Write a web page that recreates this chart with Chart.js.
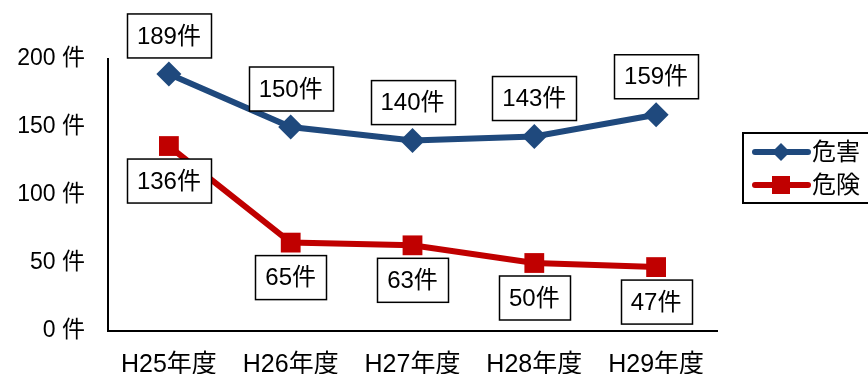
<!DOCTYPE html>
<html>
<head>
<meta charset="utf-8">
<script src="https://cdn.jsdelivr.net/npm/chart.js@4"></script>
<style>
  html, body { margin: 0; padding: 0; background: #fff; }
  #wrap { width: 868px; height: 374px; }
</style>
</head>
<body>
<div id="wrap"><canvas id="chart" width="868" height="374"></canvas></div>
<script>
// chart data
const years = ["H25年度", "H26年度", "H27年度", "H28年度", "H29年度"];
const seriesNames = ["危害", "危険"];
const harmCounts = [189, 150, 140, 143, 159];
const dangerCounts = [136, 65, 63, 50, 47];
const yTicks = [0, 50, 100, 150, 200];

const FONT = "'Liberation Sans', 'Noto Sans CJK JP', sans-serif";
const BLUE = "#1F497D";
const RED = "#C00000";

// boxed value labels (above the blue line, below the red one) and the legend box
const boxLabels = {
  id: "boxLabels",
  afterDatasetsDraw(chart) {
    const ctx = chart.ctx;
    ctx.save();
    ctx.font = "24px " + FONT;
    ctx.textAlign = "center";
    ctx.textBaseline = "middle";
    chart.data.datasets.forEach(function (ds, i) {
      const meta = chart.getDatasetMeta(i);
      meta.data.forEach(function (pt, j) {
        const text = ds.data[j] + "件";
        const w = Math.round(ctx.measureText(text).width + 20);
        const h = 44;
        const top = i === 0 ? pt.y - 16 - h : pt.y + 13;
        const left = Math.round(pt.x - w / 2) + 0.5;
        ctx.fillStyle = "#fff";
        ctx.fillRect(left, top, w, h);
        ctx.strokeStyle = "#000";
        ctx.lineWidth = 1.5;
        ctx.strokeRect(left, top, w, h);
        ctx.fillStyle = "#000";
        ctx.fillText(text, pt.x, top + h / 2 + 1);
      });
    });

    // legend
    ctx.strokeStyle = "#000";
    ctx.lineWidth = 2;
    ctx.strokeRect(743, 133, 140, 70);
    const rows = [{ y: 152, ds: chart.data.datasets[0] }, { y: 185, ds: chart.data.datasets[1] }];
    rows.forEach(function (r) {
      ctx.strokeStyle = r.ds.borderColor;
      ctx.lineWidth = 6;
      ctx.lineCap = "round";
      ctx.beginPath();
      ctx.moveTo(755, r.y);
      ctx.lineTo(808, r.y);
      ctx.stroke();
      ctx.fillStyle = r.ds.borderColor;
      if (r.ds.pointStyle === "rectRot") {
        ctx.beginPath();
        ctx.moveTo(781, r.y - 9);
        ctx.lineTo(790, r.y);
        ctx.lineTo(781, r.y + 9);
        ctx.lineTo(772, r.y);
        ctx.closePath();
        ctx.fill();
      } else {
        ctx.fillRect(772, r.y - 9, 18, 18);
      }
      ctx.fillStyle = "#000";
      ctx.textAlign = "left";
      ctx.font = "24px " + FONT;
      ctx.fillText(r.ds.label, 812, r.y + 1);
    });
    ctx.restore();
  }
};

new Chart(document.getElementById("chart"), {
  type: "line",
  data: {
    labels: years,
    datasets: [
      {
        label: seriesNames[0],
        data: harmCounts,
        borderColor: BLUE,
        backgroundColor: BLUE,
        borderWidth: 6,
        pointStyle: "rectRot",
        pointRadius: 12.5,
        pointBorderWidth: 0,
        tension: 0
      },
      {
        label: seriesNames[1],
        data: dangerCounts,
        borderColor: RED,
        backgroundColor: RED,
        borderWidth: 6,
        pointStyle: "rect",
        pointRadius: 14,
        pointBorderWidth: 0,
        tension: 0
      }
    ]
  },
  options: {
    responsive: false,
    animation: false,
    layout: { padding: { top: 59, right: 151, left: 0, bottom: 0 } },
    plugins: {
      legend: { display: false },
      tooltip: { enabled: false }
    },
    scales: {
      x: {
        offset: true,
        grid: { display: false, drawTicks: false },
        border: { color: "#000", width: 2 },
        ticks: { color: "#000", font: { family: FONT, size: 25 }, padding: 19, maxRotation: 0 },
        afterFit: function (s) { s.height = 43; }
      },
      y: {
        min: 0,
        max: 200,
        afterBuildTicks: function (s) { s.ticks = yTicks.map(function (v) { return { value: v }; }); },
        grid: { display: false, drawTicks: false },
        border: { color: "#000", width: 2 },
        ticks: {
          color: "#000",
          font: { family: FONT, size: 23 },
          padding: 23,
          callback: function (v) { return v + " 件"; }
        },
        afterFit: function (s) { s.width = 108; }
      }
    }
  },
  plugins: [boxLabels]
});
</script>
</body>
</html>
